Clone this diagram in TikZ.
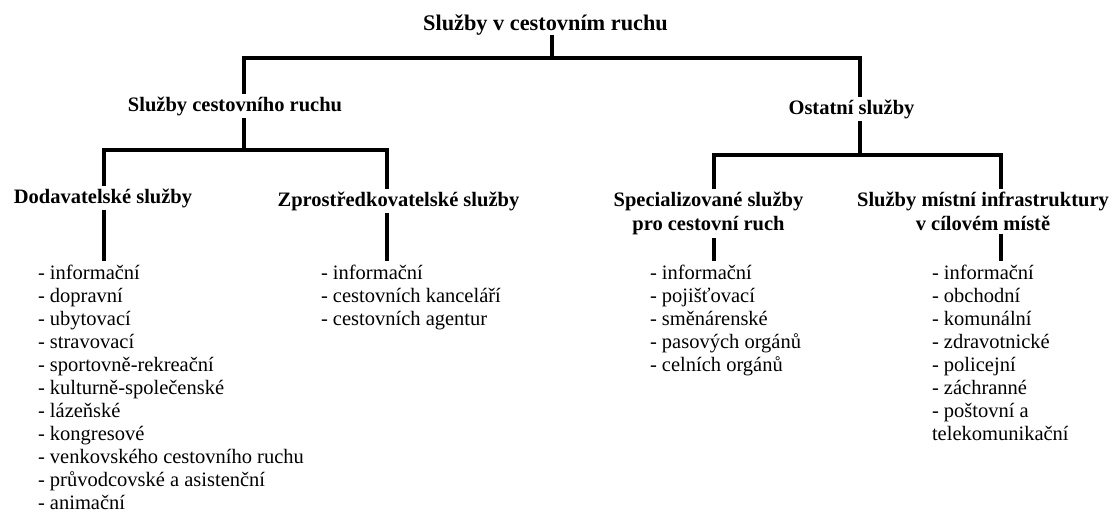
\documentclass[tikz,border=0pt]{standalone}
\usepackage{fontspec}
\setmainfont{Liberation Serif}
\begin{document}
\begin{tikzpicture}[x=1pt,y=-1pt,
  conn/.style={line width=3.4pt},
  ttl/.style={font=\fontsize{22.3}{26}\selectfont\bfseries, inner sep=0pt, outer sep=0pt},
  head/.style={font=\fontsize{20.5}{24}\selectfont\bfseries, inner sep=0pt, outer sep=3pt, align=center},
  lst/.style={font=\fontsize{20.5}{23}\selectfont, inner sep=0pt, outer sep=4pt, align=left, anchor=north west}]
\useasboundingbox (0,0) rectangle (1116,512);

% nodes
\node[ttl, anchor=base] (title) at (545.5,30) {Služby v cestovním ruchu};
\node[head, anchor=base] (scr) at (235,111) {Služby cestovního ruchu};
\node[head, anchor=base] (os) at (851.5,114) {Ostatní služby};
\node[head, anchor=base] (dod) at (103,203) {Dodavatelské služby};
\node[head, anchor=base] (zpr) at (398.5,206) {Zprostředkovatelské služby};
\node[head, anchor=north] (spec) at (708.5,189) {Specializované služby\\pro cestovní ruch};
\node[head, anchor=north] (inf) at (983,189) {Služby místní infrastruktury\\v cílovém místě};

\node[lst] (l1) at (34,261) {- informační\\- dopravní\\- ubytovací\\- stravovací\\- sportovně-rekreační\\- kulturně-společenské\\- lázeňské\\- kongresové\\- venkovského cestovního ruchu\\- průvodcovské a asistenční\\- animační};
\node[lst] (l2) at (317,261) {- informační\\- cestovních kanceláří\\- cestovních agentur};
\node[lst] (l3) at (646,261) {- informační\\- pojišťovací\\- směnárenské\\- pasových orgánů\\- celních orgánů};
\node[lst] (l4) at (928,261) {- informační\\- obchodní\\- komunální\\- zdravotnické\\- policejní\\- záchranné\\- poštovní a\\telekomunikační};

% junctions
\coordinate (j0) at (552,58);
\coordinate (jL) at (244,58);
\coordinate (jR) at (860,58);
\coordinate (j1) at (244,150);
\coordinate (j1a) at (104,150);
\coordinate (j1b) at (387,150);
\coordinate (j2) at (860,155);
\coordinate (j2a) at (714,155);
\coordinate (j2b) at (1001,155);

% connectors
\draw[conn] (title.south -| j0) -- (j0);
\draw[conn] (scr.north -| jL) -- (jL) -- (jR) -- (os.north -| jR);
\draw[conn] (scr.south -| j1) -- (j1);
\draw[conn] (dod.north -| j1a) -- (j1a) -- (j1b) -- (zpr.north -| j1b);
\draw[conn] (os.south -| j2) -- (j2);
\draw[conn] (spec.north -| j2a) -- (j2a) -- (j2b) -- (inf.north -| j2b);
\draw[conn] (dod.south -| j1a) -- (l1.north -| j1a);
\draw[conn] (zpr.south -| j1b) -- (l2.north -| j1b);
\draw[conn] (spec.south -| j2a) -- (l3.north -| j2a);
\draw[conn] (inf.south -| j2b) -- (l4.north -| j2b);
\end{tikzpicture}
\end{document}
